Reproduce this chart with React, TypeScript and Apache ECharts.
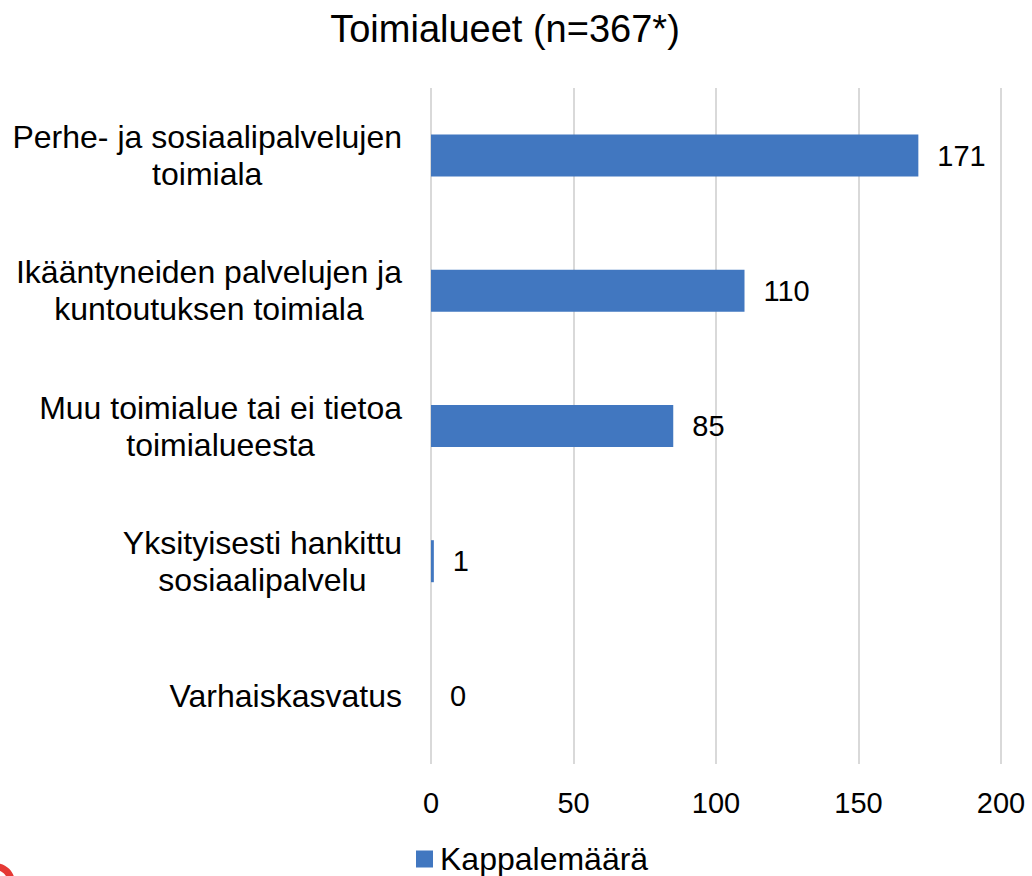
import React, { useEffect, useRef } from "react";
import * as echarts from "echarts";

const categories = [
  "Perhe- ja sosiaalipalvelujen\ntoimiala",
  "Ikääntyneiden palvelujen ja\nkuntoutuksen toimiala",
  "Muu toimialue tai ei tietoa\ntoimialueesta",
  "Yksityisesti hankittu\nsosiaalipalvelu",
  "Varhaiskasvatus",
];
const values = [171, 110, 85, 1, 0];
const seriesName = "Kappalemäärä";
const title = "Toimialueet (n=367*)";

export default function App() {
  const ref = useRef<HTMLDivElement>(null);
  useEffect(() => {
    const chart = echarts.init(ref.current!, null, { renderer: "svg" });
    const font = "'Liberation Sans', Arial, sans-serif";
    chart.setOption({
      animation: false,
      backgroundColor: "#ffffff",
      textStyle: { fontFamily: font },
      title: {
        text: title,
        left: 500,
        textAlign: "center",
        top: 5,
        textStyle: { fontFamily: font, fontSize: 38, fontWeight: "normal", color: "#000" },
      },
      grid: { left: 431, right: 31, top: 88, bottom: 112, containLabel: false },
      xAxis: {
        type: "value",
        min: 0,
        max: 200,
        interval: 50,
        axisLine: { show: false },
        axisTick: { show: false },
        axisLabel: { fontSize: 29, color: "#000", margin: 24, fontFamily: font },
        splitLine: { lineStyle: { color: "#d9d9d9", width: 2 } },
      },
      yAxis: {
        type: "category",
        data: categories,
        inverse: true,
        axisLine: { show: false },
        axisTick: { show: false },
        axisLabel: {
          fontSize: 32,
          color: "#000",
          margin: 29,
          lineHeight: 37,
          align: "right",
          fontFamily: font,
          formatter: (v: string) =>
            v
              .split("\n")
              .map((s) => `{c|${s}}`)
              .join("\n"),
          rich: {
            c: {
              align: "center",
              fontSize: 32,
              lineHeight: 37,
              color: "#000",
              fontFamily: font,
            },
          },
        },
      },
      legend: {
        data: [seriesName],
        top: 843,
        left: 416,
        padding: 0,
        icon: "rect",
        itemWidth: 17,
        itemHeight: 17,
        itemGap: 6,
        textStyle: {
          fontSize: 32,
          lineHeight: 32,
          color: "#000",
          fontFamily: font,
          padding: [0, 0, 0, 2],
        },
      },
      series: [
        {
          name: seriesName,
          type: "bar",
          data: values,
          barWidth: 42,
          itemStyle: { color: "#4177c0" },
          label: {
            show: true,
            position: "right",
            distance: 19,
            fontSize: 29,
            color: "#000",
            fontFamily: font,
          },
        },
      ],
      graphic: [
        {
          type: "ring",
          shape: { cx: -5, cy: 883, r: 20, r0: 13 },
          style: { fill: "#e53935" },
        },
      ],
    });
    return () => chart.dispose();
  }, []);
  return (
    <div
      ref={ref}
      style={{ position: "absolute", left: 0, top: 0, width: 1032, height: 876 }}
    />
  );
}
